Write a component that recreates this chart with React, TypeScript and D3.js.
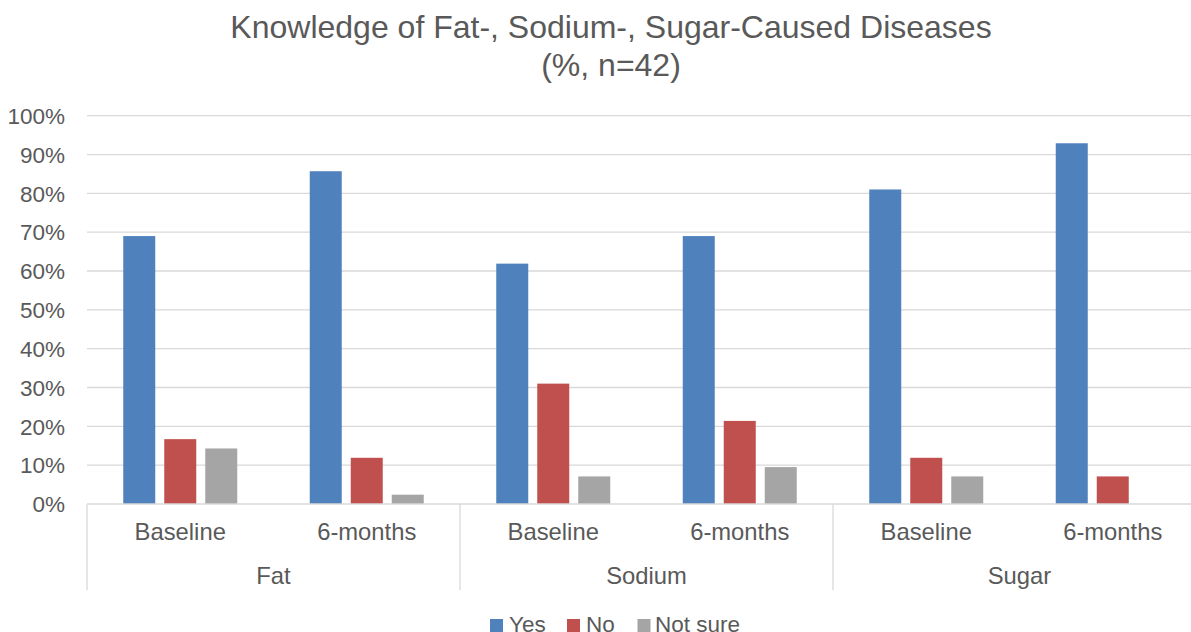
import React from "react";
import * as d3 from "d3";

const groups = ["Fat", "Sodium", "Sugar"];
const periods = ["Baseline", "6-months"];
const seriesNames = ["Yes", "No", "Not sure"];
const seriesColors = ["#4F81BD", "#C0504D", "#A5A5A5"];
// values per group, per period: [Yes, No, Not sure]
const yesValues = [69.0, 85.7, 61.9, 69.0, 81.0, 92.9];
const noValues = [16.7, 11.9, 31.0, 21.4, 11.9, 7.1];
const notSureValues = [14.3, 2.4, 7.1, 9.5, 7.1, 0];
const yTicks = [0, 10, 20, 30, 40, 50, 60, 70, 80, 90, 100];

const W = 1191;
const H = 632;
const left = 87;
const right = 1206;
const top = 115.7;
const bottom = 504;
const FONT = "'Liberation Sans', Arial, sans-serif";
const TXT = "#595959";
const GRID = "#D9D9D9";

export default function App() {
  const y = d3.scaleLinear().domain([0, 100]).range([bottom, top]);
  const xGroup = d3.scaleBand<string>().domain(groups).range([left, right]).padding(0);
  const xPeriod = d3.scaleBand<string>().domain(periods).range([0, xGroup.bandwidth()]).padding(0);
  const sub = xPeriod.bandwidth();
  const barW = 32;
  const step = 41;
  const allSeries = [yesValues, noValues, notSureValues];

  const cells: { g: string; p: string; idx: number }[] = [];
  groups.forEach((g, gi) =>
    periods.forEach((p, pi) => cells.push({ g, p, idx: gi * periods.length + pi }))
  );

  const legendItems = [
    { x: 490, tx: 509 },
    { x: 567, tx: 586 },
    { x: 637.5, tx: 655 },
  ];

  return (
    <svg
      width={W}
      height={H}
      style={{ position: "absolute", left: 0, top: 0, background: "#fff" }}
      fontFamily={FONT}
    >
      <rect x={0} y={0} width={W} height={H} fill="#fff" />
      <text x={611} y={37.5} textAnchor="middle" fontSize={32} fill={TXT}>
        Knowledge of Fat-, Sodium-, Sugar-Caused Diseases
      </text>
      <text x={611} y={75.5} textAnchor="middle" fontSize={32} fill={TXT}>
        (%, n=42)
      </text>

      {yTicks.map((t) => (
        <g key={t}>
          {t > 0 && (
            <line x1={left} x2={right} y1={y(t)} y2={y(t)} stroke={GRID} strokeWidth={1.3} />
          )}
          <text x={65} y={y(t) + 8.3} textAnchor="end" fontSize={22.5} fill={TXT}>
            {t}%
          </text>
        </g>
      ))}

      {cells.map((c) => {
        const cx = (xGroup(c.g) as number) + (xPeriod(c.p) as number) + sub / 2;
        return allSeries.map((vals, si) => {
          const v = vals[c.idx];
          if (!v) return null;
          const bx = cx + (si - 1) * step - barW / 2;
          return (
            <rect
              key={c.g + c.p + si}
              x={bx}
              y={y(v)}
              width={barW}
              height={y(0) - y(v)}
              fill={seriesColors[si]}
            />
          );
        });
      })}

      <line x1={left} x2={right} y1={bottom} y2={bottom} stroke={GRID} strokeWidth={1.3} />
      {groups.map((g) => (
        <line
          key={"d" + g}
          x1={xGroup(g) as number}
          x2={xGroup(g) as number}
          y1={bottom}
          y2={590}
          stroke={GRID}
          strokeWidth={1.3}
        />
      ))}
      <line x1={right} x2={right} y1={bottom} y2={590} stroke={GRID} strokeWidth={1.3} />

      {cells.map((c) => {
        const cx = (xGroup(c.g) as number) + (xPeriod(c.p) as number) + sub / 2;
        return (
          <text key={"l" + c.idx} x={cx} y={540} textAnchor="middle" fontSize={23.8} fill={TXT}>
            {c.p}
          </text>
        );
      })}
      {groups.map((g) => (
        <text
          key={"gl" + g}
          x={(xGroup(g) as number) + xGroup.bandwidth() / 2}
          y={584}
          textAnchor="middle"
          fontSize={23.8}
          fill={TXT}
        >
          {g}
        </text>
      ))}

      {seriesNames.map((s, i) => (
        <g key={s}>
          <rect x={legendItems[i].x} y={619} width={13} height={13} fill={seriesColors[i]} />
          <text x={legendItems[i].tx} y={631.5} fontSize={22.5} fill={TXT}>
            {s}
          </text>
        </g>
      ))}
    </svg>
  );
}
